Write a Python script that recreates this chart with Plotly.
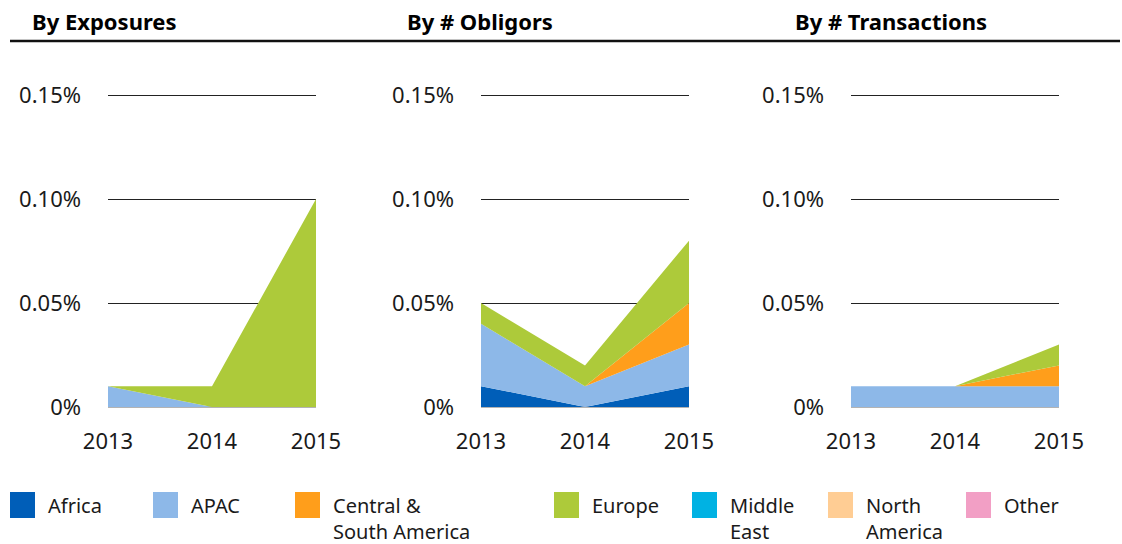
import plotly.graph_objects as go

# ---------------- data ----------------
years = [2013, 2014, 2015]
year_labels = ["2013", "2014", "2015"]
regions = ["Africa", "APAC", "Central &\nSouth America", "Europe",
           "Middle\nEast", "North\nAmerica", "Other"]
colors = ["#005EB8", "#8DB8E8", "#FF9E1B", "#ADCA3A",
          "#00B2E3", "#FFCD94", "#F29FC5"]
panel_titles = ["By Exposures", "By # Obligors", "By # Transactions"]

# values in percent
exp_africa = [0.00, 0.00, 0.00]
exp_apac = [0.01, 0.00, 0.00]
exp_csa = [0.00, 0.00, 0.00]
exp_europe = [0.00, 0.01, 0.10]
exp_me = [0.00, 0.00, 0.00]
exp_na = [0.00, 0.00, 0.00]
exp_other = [0.00, 0.00, 0.00]

obl_africa = [0.01, 0.00, 0.01]
obl_apac = [0.03, 0.01, 0.02]
obl_csa = [0.00, 0.00, 0.02]
obl_europe = [0.01, 0.01, 0.03]
obl_me = [0.00, 0.00, 0.00]
obl_na = [0.00, 0.00, 0.00]
obl_other = [0.00, 0.00, 0.00]

trx_africa = [0.00, 0.00, 0.00]
trx_apac = [0.01, 0.01, 0.01]
trx_csa = [0.00, 0.00, 0.01]
trx_europe = [0.00, 0.00, 0.01]
trx_me = [0.00, 0.00, 0.00]
trx_na = [0.00, 0.00, 0.00]
trx_other = [0.00, 0.00, 0.00]

y_ticks = [0, 0.05, 0.10, 0.15]
y_tick_labels = ["0%", "0.05%", "0.10%", "0.15%"]

panels = [
    [exp_africa, exp_apac, exp_csa, exp_europe, exp_me, exp_na, exp_other],
    [obl_africa, obl_apac, obl_csa, obl_europe, obl_me, obl_na, obl_other],
    [trx_africa, trx_apac, trx_csa, trx_europe, trx_me, trx_na, trx_other],
]

# ---------------- layout helpers ----------------
W, H = 1122, 544
def px(x):
    return x / W
def py(y):
    return 1 - y / H

panel_x = [(108, 316), (481, 689), (851, 1059)]
panel_y = (93, 407)
title_x = [30, 405, 793]
legend_x = [10, 153, 295, 554, 692, 828, 966]

FONT = "Noto Sans"
TXT = "#1a1a1a"

fig = go.Figure()

for i, series in enumerate(panels):
    ax = "" if i == 0 else str(i + 1)
    for j, vals in enumerate(series):
        fig.add_trace(go.Scatter(
            x=years, y=vals, name=regions[j].replace("\n", " "),
            stackgroup=f"p{i}", mode="none",
            fillcolor=colors[j], showlegend=False,
            xaxis="x" + ax, yaxis="y" + ax,
            hoverinfo="skip",
        ))
    x0, x1 = panel_x[i]
    fig.layout["xaxis" + ax] = dict(
        domain=[px(x0), px(x1)], range=[2013, 2015],
        tickvals=years, ticktext=year_labels,
        showgrid=False, zeroline=False, showline=False, ticks="",
        tickfont=dict(family=FONT, size=22, color=TXT),
        ticklabelstandoff=19, anchor="y" + ax, fixedrange=True,
        automargin=False,
    )
    fig.layout["yaxis" + ax] = dict(
        domain=[py(panel_y[1]), py(panel_y[0])], range=[0, 0.151],
        tickvals=y_ticks, ticktext=y_tick_labels,
        showgrid=True, gridcolor="#222222", gridwidth=1,
        zeroline=True, zerolinecolor="#b3b3b3", zerolinewidth=2,
        showline=False, ticks="",
        tickfont=dict(family=FONT, size=22, color=TXT),
        ticklabelstandoff=26, anchor="x" + ax, fixedrange=True,
        automargin=False,
    )

shapes = []
annotations = []

# title underline
shapes.append(dict(type="line", xref="paper", yref="paper",
                   x0=px(10), x1=px(1120), y0=py(41), y1=py(41),
                   line=dict(color="#111111", width=2.5)))

for i, t in enumerate(panel_titles):
    annotations.append(dict(
        text=f"<b>{t}</b>", xref="paper", yref="paper",
        x=px(title_x[i]), y=py(21), xanchor="left", yanchor="middle",
        showarrow=False, font=dict(family=FONT, size=22, color="#000000"),
    ))

# legend
for j, name in enumerate(regions):
    lx = legend_x[j]
    shapes.append(dict(type="rect", xref="paper", yref="paper",
                       x0=px(lx), x1=px(lx + 25), y0=py(518), y1=py(492),
                       fillcolor=colors[j], line=dict(width=0)))
    annotations.append(dict(
        text=name.replace("\n", "<br>"), xref="paper", yref="paper",
        x=px(lx + 37), y=py(491), xanchor="left", yanchor="top",
        align="left", showarrow=False, borderpad=0,
        font=dict(family=FONT, size=20, color=TXT),
    ))

fig.update_layout(
    width=W, height=H,
    margin=dict(l=0, r=0, t=0, b=0, pad=0, autoexpand=False),
    paper_bgcolor="white", plot_bgcolor="white",
    shapes=shapes, annotations=annotations,
    showlegend=False,
)

fig.write_html(
    "out.html",
    config={"displayModeBar": False},
    post_script="document.body.style.margin='0px';document.body.style.overflow='hidden';",
)
